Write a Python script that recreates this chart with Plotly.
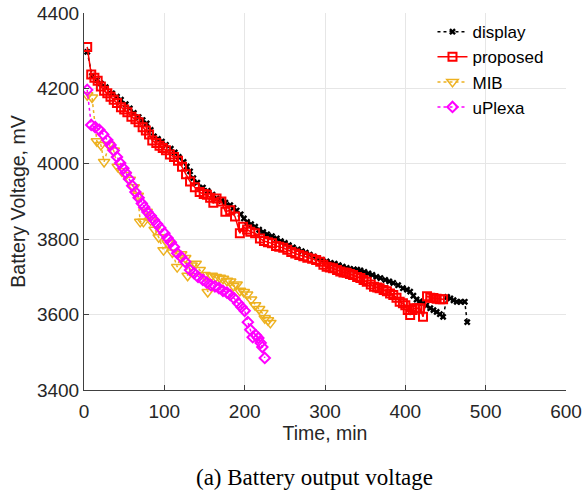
import plotly.graph_objects as go

disp_t = [4, 10, 16, 21, 27, 35, 41, 46, 52, 57, 62, 68, 73, 78, 83, 87, 92, 97, 102, 108, 113, 118, 124, 128, 132, 136, 141, 148, 154, 160, 165, 171, 176, 182, 186, 190, 195, 199, 203, 208, 213, 218, 223, 228, 234, 240, 245, 250, 255, 260, 266, 271, 276, 281, 286, 291, 296, 302, 307, 312, 317, 322, 327, 331, 336, 340, 344, 349, 354, 359, 364, 369, 375, 380, 385, 391, 397, 402, 406, 410, 414, 418, 422, 426, 431, 435, 439, 443, 447, 452, 456, 460, 464, 469, 474, 477]
disp_v = [4297, 4233, 4222, 4213, 4203, 4187, 4178, 4170, 4158, 4147, 4135, 4124, 4116, 4107, 4090, 4073, 4066, 4059, 4050, 4040, 4030, 4018, 4005, 3993, 3980, 3962, 3950, 3937, 3928, 3918, 3908, 3902, 3897, 3890, 3883, 3876, 3866, 3855, 3846, 3840, 3833, 3825, 3819, 3813, 3808, 3802, 3795, 3790, 3784, 3778, 3773, 3768, 3764, 3759, 3754, 3748, 3745, 3741, 3737, 3735, 3731, 3727, 3724, 3721, 3720, 3719, 3717, 3713, 3709, 3705, 3700, 3697, 3692, 3688, 3684, 3678, 3670, 3666, 3661, 3650, 3640, 3635, 3630, 3624, 3617, 3612, 3607, 3601, 3594, 3647, 3643, 3638, 3634, 3634, 3634, 3580]

prop_t = [4, 9, 13, 17, 21, 25, 29, 33, 37, 41, 46, 50, 54, 59, 64, 68, 73, 77, 81, 85, 90, 94, 98, 102, 107, 112, 117, 122, 127, 132, 138, 144, 149, 153, 157, 161, 165, 171, 176, 182, 188, 194, 198, 203, 207, 213, 219, 224, 229, 234, 239, 243, 248, 253, 258, 263, 268, 273, 278, 284, 289, 294, 298, 302, 306, 310, 315, 319, 323, 327, 331, 335, 340, 344, 348, 352, 357, 361, 365, 368, 373, 377, 381, 385, 389, 393, 397, 400, 403, 406, 409, 412, 415, 418, 422, 427, 431, 435, 439, 443, 447]
prop_v = [4310, 4237, 4228, 4220, 4205, 4194, 4187, 4178, 4170, 4161, 4150, 4144, 4137, 4125, 4118, 4110, 4097, 4088, 4078, 4062, 4055, 4048, 4042, 4036, 4025, 4018, 4008, 3992, 3972, 3953, 3938, 3925, 3920, 3918, 3910, 3897, 3908, 3900, 3873, 3877, 3860, 3816, 3833, 3826, 3820, 3816, 3802, 3795, 3792, 3789, 3782, 3780, 3777, 3772, 3766, 3762, 3758, 3755, 3751, 3748, 3745, 3740, 3732, 3727, 3725, 3723, 3718, 3714, 3712, 3711, 3708, 3705, 3700, 3697, 3692, 3687, 3680, 3674, 3672, 3670, 3665, 3662, 3656, 3652, 3645, 3634, 3630, 3625, 3612, 3599, 3612, 3617, 3617, 3617, 3594, 3649, 3645, 3644, 3642, 3641, 3641]

mib_t = [4, 10, 16, 21, 25, 31, 37, 42, 47, 52, 57, 62, 67, 70, 74, 78, 83, 88, 93, 99, 104, 110, 116, 121, 126, 129, 134, 139, 144, 150, 154, 159, 164, 169, 173, 178, 182, 186, 190, 194, 199, 203, 208, 213, 218, 222, 225, 229, 232]
mib_v = [4182, 4176, 4060, 4050, 4005, 4050, 4035, 3992, 3980, 3970, 3958, 3938, 3915, 3846, 3846, 3873, 3850, 3825, 3805, 3771, 3790, 3765, 3726, 3760, 3750, 3703, 3730, 3735, 3718, 3705, 3660, 3703, 3700, 3698, 3695, 3690, 3688, 3676, 3680, 3663, 3660, 3653, 3640, 3625, 3615, 3604, 3590, 3585, 3578]

upl_t = [4, 9, 14, 19, 24, 29, 33, 37, 41, 45, 49, 52, 56, 60, 64, 68, 72, 75, 79, 83, 87, 91, 95, 100, 104, 108, 112, 116, 121, 126, 132, 137, 142, 148, 153, 158, 163, 168, 173, 178, 182, 187, 192, 196, 200, 204, 207, 210, 214, 217, 220, 222, 225]
upl_v = [4196, 4103, 4097, 4090, 4078, 4063, 4050, 4035, 4018, 4002, 3988, 3976, 3960, 3942, 3925, 3910, 3895, 3885, 3872, 3862, 3851, 3840, 3830, 3816, 3803, 3792, 3779, 3763, 3753, 3740, 3718, 3710, 3700, 3692, 3685, 3678, 3675, 3670, 3663, 3658, 3652, 3643, 3630, 3620, 3610, 3580, 3560, 3540, 3545, 3538, 3525, 3514, 3485]

x_ticks = [0, 100, 200, 300, 400, 500, 600]
y_ticks = [3400, 3600, 3800, 4000, 4200, 4400]

SANS = "Liberation Sans, Arial, sans-serif"
SERIF = "Liberation Serif, Times New Roman, serif"

fig = go.Figure()
fig.add_trace(go.Scatter(x=disp_t, y=disp_v, name="display", mode="lines+markers",
                         line=dict(color="black", width=1.5, dash="dot"),
                         marker=dict(symbol="x", size=6, color="black", line=dict(width=0))))
fig.add_trace(go.Scatter(x=prop_t, y=prop_v, name="proposed", mode="lines+markers",
                         line=dict(color="#FF0000", width=1.5),
                         marker=dict(symbol="square-open", size=8, color="#FF0000", line=dict(width=2))))
fig.add_trace(go.Scatter(x=mib_t, y=mib_v, name="MIB", mode="lines+markers",
                         line=dict(color="#EDB120", width=1.5, dash="dot"),
                         marker=dict(symbol="triangle-down-open", size=10, color="#EDB120", line=dict(width=1.5))))
fig.add_trace(go.Scatter(x=upl_t, y=upl_v, name="uPlexa", mode="lines+markers",
                         line=dict(color="#FF00FF", width=1.5, dash="dot"),
                         marker=dict(symbol="diamond-open", size=8, color="#FF00FF", line=dict(width=2))))

axis_common = dict(showgrid=True, gridcolor="#E6E6E6", gridwidth=1,
                   showline=True, linecolor="#404040", linewidth=1,
                   ticks="inside", ticklen=5, tickcolor="#404040",
                   tickfont=dict(family=SANS, size=19, color="#262626"),
                   zeroline=False, mirror=False, automargin=False)

fig.update_xaxes(range=[0, 600], tickvals=x_ticks, ticktext=[str(v) for v in x_ticks],
                 ticklabelstandoff=4,
                 title=dict(text="Time, min", font=dict(family=SANS, size=19.5, color="#262626"), standoff=4),
                 **axis_common)
fig.update_yaxes(range=[3400, 4400], tickvals=y_ticks, ticktext=[str(v) for v in y_ticks],
                 title=dict(text="Battery Voltage, mV", font=dict(family=SANS, size=19.5, color="#262626"), standoff=6),
                 **axis_common)

fig.update_layout(
    width=585, height=491,
    margin=dict(l=84, r=19, t=13, b=101, autoexpand=False),
    plot_bgcolor="white", paper_bgcolor="white",
    legend=dict(x=0.723, y=0.997, xanchor="left", yanchor="top",
                bgcolor="rgba(255,255,255,0)", borderwidth=0,
                font=dict(family=SANS, size=17, color="black"),
                tracegroupgap=0, itemwidth=30),
    annotations=[dict(text="(a) Battery output voltage", xref="paper", yref="paper",
                      x=0.479, y=-0.231, xanchor="center", yanchor="middle", showarrow=False,
                      font=dict(family=SERIF, size=23, color="black"))],
)

fig.write_html("out.html")
